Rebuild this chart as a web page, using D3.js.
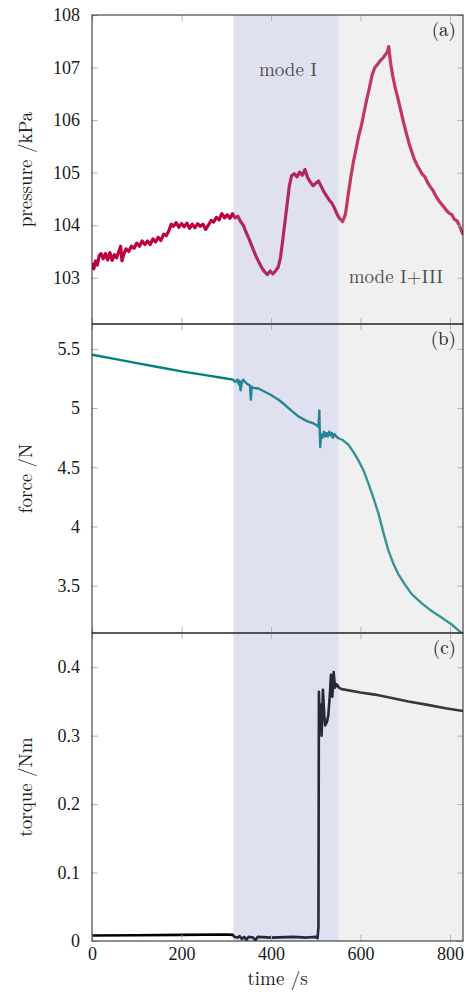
<!DOCTYPE html>
<html>
<head>
<meta charset="utf-8">
<script src="https://cdn.jsdelivr.net/npm/d3@7"></script>
<style>
  body { margin: 0; background: #fff; }
  svg text { font-family: "Latin Modern Roman", "CMU Serif", "Liberation Serif", serif; fill: #1a1a1a; }
</style>
</head>
<body>
<svg></svg>
<script>
// time axis ticks (s)
var timeTicks = [0, 200, 400, 600, 800];

// mode regions (s)
var modeI = [316, 551];
var modeI3 = [551, 829];

// pressure /kPa (noisy trace)
var pressureTime = [0, 4, 8, 12, 16, 20, 25, 30, 35, 40, 45, 50, 55, 60, 64, 67, 71, 76, 82, 88, 94, 100,
	106, 112, 118, 124, 130, 136, 142, 148, 154, 160, 166, 172, 177, 182, 188, 194, 200, 206, 212, 218,
	224, 230, 236, 242, 248, 254, 260, 266, 272, 278, 284, 290, 296, 302, 308, 314, 320, 326, 332, 338,
	344, 350, 356, 362, 368, 374, 380, 386, 392, 398, 404, 410, 416, 421, 426, 431, 436, 441, 446, 452,
	458, 464, 470, 476, 482, 488, 494, 500, 506, 512, 518, 524, 530, 536, 542, 548, 554, 560, 566, 572,
	578, 584, 590, 596, 602, 608, 614, 620, 626, 632, 638, 644, 650, 656, 660, 663, 667, 672, 678, 684,
	690, 696, 702, 708, 714, 720, 726, 732, 738, 744, 750, 756, 762, 768, 774, 780, 786, 792, 798, 804,
	810, 816, 822, 829];
var pressureValue = [103.28, 103.17, 103.32, 103.24, 103.42, 103.46, 103.36, 103.46, 103.34, 103.48, 103.33, 103.44, 103.38, 103.5, 103.6, 103.32, 103.45, 103.55, 103.5, 103.6, 103.56, 103.66,
	103.6, 103.7, 103.63, 103.7, 103.63, 103.74, 103.68, 103.77, 103.71, 103.83, 103.8, 103.9, 104.02, 103.98, 104.05, 103.96, 104.03, 103.97, 104.04, 103.94,
	104.02, 103.95, 104.03, 103.98, 104.02, 103.92, 104.0, 104.09, 104.06, 104.15, 104.1, 104.22, 104.14, 104.2, 104.13, 104.22, 104.14, 104.17, 104.07, 104.0,
	103.87, 103.76, 103.63, 103.5, 103.38, 103.28, 103.18, 103.11, 103.06, 103.13, 103.07, 103.13, 103.2, 103.38, 103.7, 104.05, 104.4, 104.75, 104.94, 104.98,
	104.92, 105.01, 104.95, 105.06, 104.9, 104.82, 104.75, 104.8, 104.84, 104.74, 104.64, 104.56, 104.48, 104.42, 104.32, 104.2, 104.12, 104.07, 104.2, 104.55,
	104.9, 105.2, 105.45, 105.7, 105.9, 106.15, 106.4, 106.62, 106.86, 107.0, 107.06, 107.13, 107.18, 107.25, 107.3, 107.4, 107.1, 106.84, 106.6, 106.4,
	106.18, 105.96, 105.76, 105.57, 105.41, 105.26, 105.15, 105.06, 104.97, 104.92, 104.81, 104.73, 104.66, 104.56, 104.48, 104.41, 104.35, 104.28, 104.23, 104.2,
	104.11, 104.08, 103.97, 103.82];

// force /N
var forceTime = [0, 50, 100, 150, 200, 250, 300, 315, 320, 325, 328, 330, 332, 335, 338, 342, 348, 353, 355, 357, 360,
	372, 385, 400, 417, 430, 445, 461, 480, 495, 502, 506, 508, 509, 510, 512, 515, 518, 521, 524, 527, 530, 533,
	536, 538, 542, 546, 551, 560, 573, 584, 595, 607, 618, 629, 640, 651, 662, 673, 684, 699, 714, 737, 759,
	781, 803, 815, 829];
var forceValue = [5.45, 5.415, 5.38, 5.345, 5.31, 5.28, 5.25, 5.24, 5.22, 5.24, 5.2, 5.23, 5.15, 5.22, 5.24, 5.22, 5.2, 5.19, 5.07, 5.18, 5.17,
	5.165, 5.14, 5.11, 5.07, 5.03, 4.98, 4.93, 4.89, 4.87, 4.855, 4.84, 4.98, 4.8, 4.67, 4.78, 4.75, 4.8, 4.76, 4.79, 4.76, 4.8, 4.77,
	4.79, 4.75, 4.78, 4.76, 4.745, 4.73, 4.69, 4.63, 4.56, 4.47, 4.36, 4.24, 4.11, 3.95, 3.8, 3.69, 3.6, 3.51, 3.43, 3.35, 3.285,
	3.23, 3.174, 3.135, 3.09];

// torque /Nm
var torqueTime = [0, 100, 200, 300, 315, 318, 325, 330, 335, 340, 345, 350, 360, 365, 370, 400, 450, 480, 500, 504, 506,
	507, 509, 511, 513, 516, 519, 521, 525, 528, 531, 534, 537, 540, 543, 547, 552, 558, 600, 632, 670, 707, 750, 790, 829];
var torqueValue = [0.008, 0.0085, 0.009, 0.0095, 0.009, 0.006, 0.005, 0.007, 0.003, 0.006, 0.002, 0.006, 0.005, 0.001, 0.006, 0.005, 0.006, 0.005, 0.006, 0.004, 0.02,
	0.364, 0.31, 0.345, 0.3, 0.367, 0.33, 0.315, 0.32, 0.33, 0.355, 0.389, 0.357, 0.393, 0.37, 0.375, 0.37, 0.368, 0.363, 0.36, 0.355, 0.35, 0.345, 0.34, 0.336];

var pressureTicks = [103, 104, 105, 106, 107, 108];
var forceTicks = [3.5, 4, 4.5, 5, 5.5];
var torqueTicks = [0, 0.1, 0.2, 0.3, 0.4];

var svgWidth = 466;
var svgHeight = 995;
var left = 92, right = 463;

var svg = d3.select("svg")
	.attr("width", svgWidth)
	.attr("height", svgHeight);

var xScale = d3.scaleLinear()
	.domain([0, 829])
	.range([left, right]);

var panels = [
	{ top: 15, bottom: 324, domain: [102.12, 108], ticks: pressureTicks, t: pressureTime, v: pressureValue,
	  color: "#c0003a", width: 3.2, label: "pressure /kPa", tag: "(a)" },
	{ top: 324, bottom: 633, domain: [3.1, 5.71], ticks: forceTicks, t: forceTime, v: forceValue,
	  color: "#008080", width: 2.4, label: "force /N", tag: "(b)" },
	{ top: 633, bottom: 941, domain: [0, 0.45], ticks: torqueTicks, t: torqueTime, v: torqueValue,
	  color: "#000000", width: 2.6, label: "torque /Nm", tag: "(c)" }
];

panels.forEach(function(p, i) {
	p.y = d3.scaleLinear().domain(p.domain).range([p.bottom, p.top]);
	svg.append("clipPath").attr("id", "clip" + i)
		.append("rect")
		.attr("x", left).attr("y", p.top)
		.attr("width", right - left).attr("height", p.bottom - p.top);
	var line = d3.line()
		.x(function(d, k) { return xScale(p.t[k]); })
		.y(function(d, k) { return p.y(p.v[k]); });
	svg.append("path")
		.datum(p.v)
		.attr("clip-path", "url(#clip" + i + ")")
		.attr("fill", "none")
		.attr("stroke", p.color)
		.attr("stroke-width", p.width)
		.attr("stroke-linejoin", "round")
		.attr("d", line);
});

// shaded mode regions, laid over the traces
var shadeTop = panels[0].top, shadeBottom = panels[2].bottom;
svg.append("rect")
	.attr("x", xScale(modeI[0])).attr("y", shadeTop)
	.attr("width", xScale(modeI[1]) - xScale(modeI[0]))
	.attr("height", shadeBottom - shadeTop)
	.attr("fill", "rgb(138,146,200)")
	.attr("fill-opacity", 0.275);
svg.append("rect")
	.attr("x", xScale(modeI3[0])).attr("y", shadeTop)
	.attr("width", xScale(modeI3[1]) - xScale(modeI3[0]))
	.attr("height", shadeBottom - shadeTop)
	.attr("fill", "rgb(200,200,200)")
	.attr("fill-opacity", 0.275);

svg.append("text")
	.attr("x", 288).attr("y", 76)
	.attr("text-anchor", "middle")
	.style("font-size", "19px")
	.style("fill", "#4d4d4d")
	.text("mode I");
svg.append("text")
	.attr("x", 396).attr("y", 283)
	.attr("text-anchor", "middle")
	.style("font-size", "19px")
	.style("fill", "#4d4d4d")
	.text("mode I+III");

var fmt = d3.format("~g");

panels.forEach(function(p, i) {
	// y ticks, inward on both sides
	var yl = svg.append("g")
		.attr("transform", "translate(" + left + ",0)")
		.call(d3.axisLeft(p.y).tickValues(p.ticks).tickSizeInner(-6).tickSizeOuter(0).tickPadding(12).tickFormat(fmt));
	var yr = svg.append("g")
		.attr("transform", "translate(" + right + ",0)")
		.call(d3.axisRight(p.y).tickValues(p.ticks).tickSizeInner(-6).tickSizeOuter(0).tickFormat(""));
	// x ticks top and bottom
	var xt = svg.append("g")
		.attr("transform", "translate(0," + p.top + ")")
		.call(d3.axisTop(xScale).tickValues(timeTicks).tickSizeInner(-6).tickSizeOuter(0).tickFormat(""));
	var xb = svg.append("g")
		.attr("transform", "translate(0," + p.bottom + ")")
		.call(d3.axisBottom(xScale).tickValues(timeTicks).tickSizeInner(-6).tickSizeOuter(0)
			.tickPadding(6).tickFormat(i == 2 ? fmt : ""));
	[yl, yr, xt, xb].forEach(function(g) {
		g.select(".domain").remove();
		g.selectAll(".tick line").attr("stroke", "#b4b4b4");
		g.selectAll("text")
			.style("font-size", "18px")
			.style("font-family", "'Liberation Serif', serif")
			.attr("fill", "#1a1a1a");
	});

	svg.append("rect")
		.attr("x", left).attr("y", p.top)
		.attr("width", right - left).attr("height", p.bottom - p.top)
		.attr("fill", "none")
		.attr("stroke", "#222")
		.attr("stroke-width", 1);

	svg.append("text")
		.attr("transform", "translate(32," + (p.top + p.bottom) / 2 + ") rotate(-90)")
		.attr("text-anchor", "middle")
		.style("font-size", "19px")
		.text(p.label);

	svg.append("text")
		.attr("x", 456).attr("y", p.top + 21)
		.attr("text-anchor", "end")
		.style("font-size", "19px")
		.text(p.tag);
});

svg.append("text")
	.attr("x", (left + right) / 2).attr("y", 985)
	.attr("text-anchor", "middle")
	.style("font-size", "19px")
	.text("time /s");
</script>
</body>
</html>
